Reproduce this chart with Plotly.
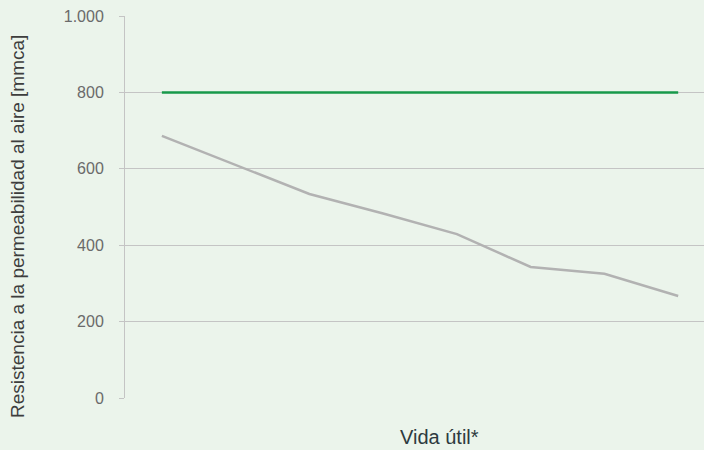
import plotly.graph_objects as go

categories = ["1", "2", "3", "4", "5", "6", "7", "8"]
reference_values = [800, 800, 800, 800, 800, 800, 800, 800]
product_values = [686, 610, 534, 483, 429, 343, 325, 267]
y_ticks = [0, 200, 400, 600, 800, 1000]

fig = go.Figure()
fig.add_trace(go.Scatter(x=categories, y=product_values, mode="lines",
                         line=dict(color="#b2b2b2", width=2.5), showlegend=False))
fig.add_trace(go.Scatter(x=categories, y=reference_values, mode="lines",
                         line=dict(color="#17994a", width=2.5), showlegend=False))

bg = "#ebf4eb"
fig.update_layout(
    width=704, height=450,
    margin=dict(l=125, r=0, t=16, b=52),
    paper_bgcolor=bg, plot_bgcolor=bg,
    separators=",.",
    font=dict(family="Liberation Sans, Arial, sans-serif"),
    xaxis=dict(type="category", range=[-0.5, 7.35], showticklabels=False,
               showgrid=False, zeroline=False, showline=False, ticks=""),
    yaxis=dict(range=[0, 1000], tickvals=y_ticks, tickformat=",d",
               showgrid=True, gridcolor="#c4c4c4", gridwidth=1,
               zeroline=False, showline=True, linecolor="#c4c4c4", linewidth=1,
               ticks="outside", ticklen=5, tickcolor="#c4c4c4",
               ticklabelstandoff=12,
               tickfont=dict(size=16, color="#6a6a6a")),
    annotations=[
        dict(text="Resistencia a la permeabilidad al aire [mmca]", xref="paper", yref="paper",
             x=(18 - 125) / 579, y=(398 - 227) / 382, textangle=-90, showarrow=False,
             xanchor="center", yanchor="middle",
             font=dict(size=19, color="#3d3d3d")),
        dict(text="Vida útil*", xref="paper", yref="paper",
             x=(439 - 125) / 579, y=-(437 - 398) / 382, showarrow=False,
             xanchor="center", yanchor="middle",
             font=dict(size=20, color="#2d3a40")),
    ],
)

fig.write_html("out.html", config={"displayModeBar": False},
               post_script="document.body.style.margin='0';document.body.style.overflow='hidden';")
